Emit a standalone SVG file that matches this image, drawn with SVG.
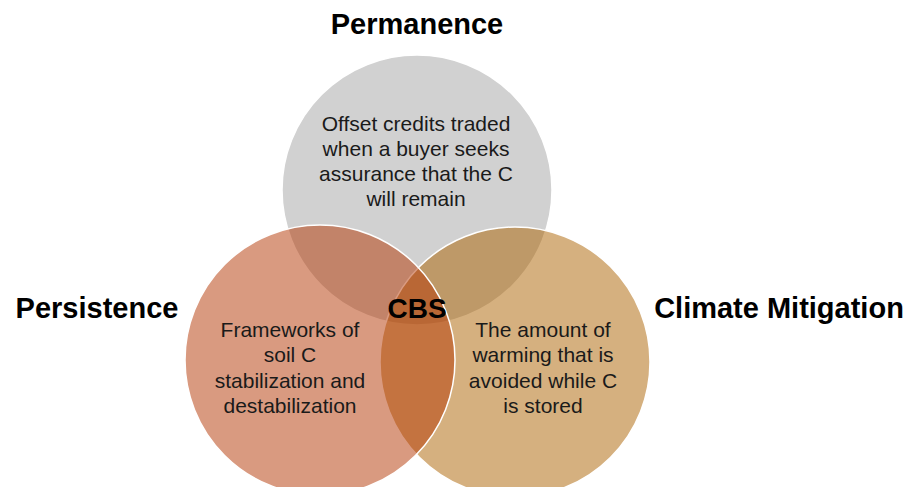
<svg xmlns="http://www.w3.org/2000/svg" width="918" height="487" viewBox="0 0 918 487">
<style>
.circ{stroke:#ffffff;stroke-width:1.5}
.title{font-family:"Liberation Sans",Arial,sans-serif;font-weight:bold;font-size:29px;fill:#000000;text-anchor:middle}
.body{font-family:"Liberation Sans",Arial,sans-serif;font-size:21px;fill:#1a1a1a;text-anchor:middle}
</style>
<rect width="918" height="487" fill="#ffffff"/>
<g id="permanence">
<circle class="circ" cx="417" cy="190" r="135" fill="#d1d1d1"/>
<text class="title" x="417" y="34">Permanence</text>
<text class="body" x="416" y="131">Offset credits traded</text>
<text class="body" x="416" y="156">when a buyer seeks</text>
<text class="body" x="416" y="181">assurance that the C</text>
<text class="body" x="416" y="206">will remain</text>
</g>
<g id="climate-mitigation">
<circle class="circ" cx="515" cy="362" r="135" fill="rgb(171,97,0)" fill-opacity="0.5"/>
<text class="title" x="779" y="318">Climate Mitigation</text>
<text class="body" x="543" y="337">The amount of</text>
<text class="body" x="543" y="362">warming that is</text>
<text class="body" x="543" y="388">avoided while C</text>
<text class="body" x="543" y="413">is stored</text>
</g>
<g id="persistence">
<circle class="circ" cx="320" cy="360" r="135" fill="rgb(179,53,1)" fill-opacity="0.5"/>
<text class="title" x="97" y="318">Persistence</text>
<text class="body" x="290" y="337">Frameworks of</text>
<text class="body" x="290" y="362">soil C</text>
<text class="body" x="290" y="388">stabilization and</text>
<text class="body" x="290" y="413">destabilization</text>
</g>
<g id="cbs">
<text class="title" x="417" y="318" style="font-size:28px">CBS</text>
</g>
<g id="connectors"/>
</svg>
